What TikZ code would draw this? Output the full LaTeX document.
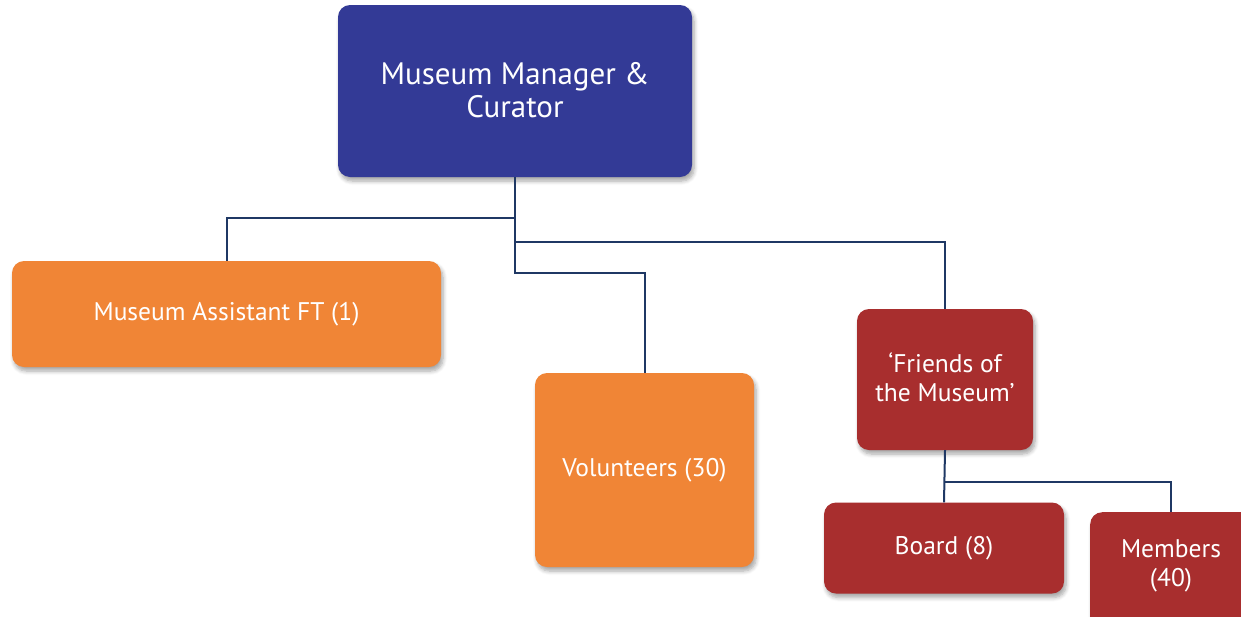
\documentclass[tikz,border=0pt]{standalone}
\usepackage{fontspec}
\setmainfont{PT Sans}
\usetikzlibrary{shadows.blur}
\definecolor{mgr}{HTML}{333A96}
\definecolor{org}{HTML}{F08536}
\definecolor{rd}{HTML}{A82E2E}
\definecolor{ln}{HTML}{1F3864}
\tikzset{
  box/.style={rounded corners=12pt, text=white, align=center, inner sep=0pt,
    blur shadow={shadow xshift=2pt, shadow yshift=-4pt, shadow blur steps=6, shadow opacity=35, shadow blur radius=4pt}},
  big/.style={font=\fontsize{31}{33}\selectfont},
  sml/.style={font=\fontsize{25.5}{29}\selectfont},
  conn/.style={draw=ln, line width=2pt}
}
\begin{document}
\begin{tikzpicture}[x=1pt,y=-1pt]
\useasboundingbox (0,0) rectangle (1241,616);
\clip (0,0) rectangle (1241,616);
\node[box, fill=mgr, minimum width=354pt, minimum height=172pt] (mgr) at (515,91) {};
\node[big, text=white, align=center] (mgrt) at (515,90) {Museum Manager \&\\Curator};
\node[box, sml, fill=org, minimum width=429pt, minimum height=106pt] (asst) at (226.5,314) {Museum Assistant FT (1)};
\node[box, sml, fill=org, minimum width=219pt, minimum height=194pt] (vol) at (644.5,470) {Volunteers (30)};
\node[box, fill=rd, minimum width=176pt, minimum height=141pt] (fr) at (945,379.5) {};
\node[sml, text=white, align=center] (frt) at (945,377) {‘Friends of\\the Museum’};
\node[box, sml, fill=rd, minimum width=240pt, minimum height=91pt] (bd) at (944,548) {Board (8)};
\node[box, fill=rd, minimum width=180pt, minimum height=130pt, anchor=north west] (mem) at (1090,512) {};
\node[sml, text=white, align=center] (memt) at (1171,566) {Members\\(40)};
\coordinate (j1) at (515,218);
\coordinate (j2) at (515,242);
\coordinate (j3) at (515,273);
\coordinate (j4) at (945,482);
\coordinate (mtop) at (1171,512);
\draw[conn] (mgr.south) -- (j3) -| (vol.north);
\draw[conn] (j1) -| (asst.north);
\draw[conn] (j2) -| (fr.north);
\draw[conn] (fr.south) -- (bd.north);
\draw[conn] (j4) -| (mtop);
\end{tikzpicture}
\end{document}
